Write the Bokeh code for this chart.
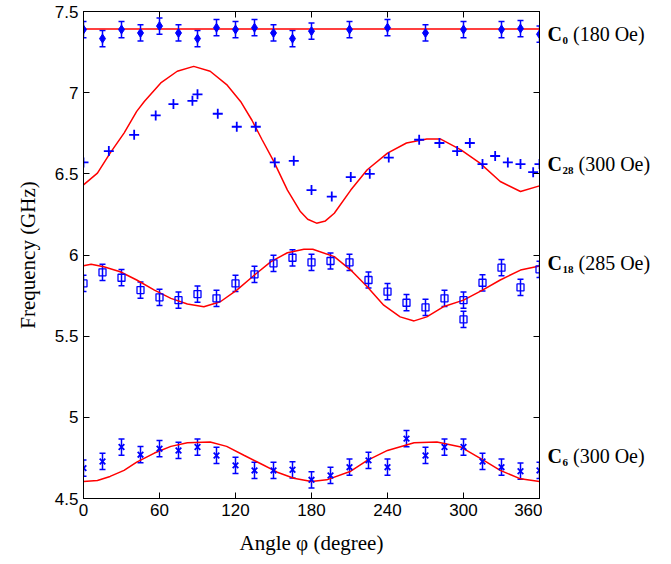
from bokeh.plotting import figure
from bokeh.layouts import row
from bokeh.models import (Range1d, FixedTicker, LinearAxis, Whisker, TeeHead,
                          ColumnDataSource, Label, CustomJSTickFormatter)
from bokeh.embed import file_html
from bokeh.resources import INLINE

# ---------------- data ----------------
x_ticks = [0, 60, 120, 180, 240, 300, 360]
y_ticks = [4.5, 5, 5.5, 6, 6.5, 7, 7.5]

# C0 (180 Oe)
c0_ang = [0, 15, 30, 45, 60, 75, 90, 105, 120, 135, 150, 165, 180, 210, 240, 270, 300, 330, 345, 360]
c0_val = [7.389, 7.333, 7.389, 7.368, 7.41, 7.368, 7.333, 7.40, 7.389, 7.40, 7.368, 7.333, 7.379,
          7.389, 7.40, 7.368, 7.389, 7.389, 7.395, 7.36]
c0_err = [0.05, 0.05, 0.05, 0.05, 0.05, 0.05, 0.05, 0.05, 0.05, 0.05, 0.05, 0.05, 0.05,
          0.05, 0.05, 0.05, 0.05, 0.05, 0.05, 0.05]
c0_fit_ang = [0, 360]
c0_fit_val = [7.392, 7.392]

# C28 (300 Oe)
c28_ang = [0, 20, 40, 57, 71, 86, 90, 106, 121, 136, 151, 166, 180, 196, 211, 226, 241,
           265, 281, 295, 305, 315, 325, 335, 345, 355, 360]
c28_val = [6.57, 6.64, 6.74, 6.86, 6.93, 6.95, 6.99, 6.87, 6.79, 6.79, 6.57, 6.58, 6.40, 6.36,
           6.48, 6.50, 6.60, 6.71, 6.69, 6.64, 6.69, 6.56, 6.61, 6.57, 6.56, 6.51, 6.56]
c28_fit_ang = [0, 11, 21, 32, 42, 48, 61, 74, 87, 100, 113, 124, 133, 141, 150, 161, 171, 177,
               184, 191, 198, 211, 224, 240, 255, 271, 282, 298, 313, 329, 345, 360]
c28_fit_val = [6.432, 6.504, 6.628, 6.751, 6.885, 6.946, 7.06, 7.132, 7.162, 7.132, 7.05, 6.946,
               6.83, 6.71, 6.58, 6.40, 6.27, 6.22, 6.196, 6.21, 6.257, 6.40, 6.525, 6.628, 6.69,
               6.714, 6.714, 6.648, 6.566, 6.453, 6.391, 6.426]

# C18 (285 Oe)
c18_ang = [0, 15, 30, 45, 60, 75, 90, 105, 120, 135, 150, 165, 180, 195, 210, 225, 240, 255,
           270, 285, 300, 300, 315, 330, 345, 360]
c18_val = [5.825, 5.893, 5.86, 5.784, 5.739, 5.722, 5.759, 5.733, 5.825, 5.881, 5.949, 5.983,
           5.955, 5.963, 5.955, 5.846, 5.774, 5.706, 5.677, 5.733, 5.722, 5.603, 5.829, 5.922,
           5.80, 5.912]
c18_err = [0.05, 0.05, 0.05, 0.05, 0.05, 0.05, 0.05, 0.05, 0.05, 0.05, 0.05, 0.05, 0.05,
           0.05, 0.05, 0.05, 0.05, 0.05, 0.05, 0.05, 0.05, 0.05, 0.05, 0.05, 0.05, 0.05]
c18_fit_ang = [0, 6, 16, 29, 42, 56, 69, 82, 95, 108, 121, 135, 148, 161, 174, 181, 198, 211,
               224, 237, 250, 261, 271, 284, 300, 315, 329, 345, 360]
c18_fit_val = [5.934, 5.943, 5.928, 5.897, 5.846, 5.784, 5.733, 5.698, 5.681, 5.712, 5.784,
               5.877, 5.959, 6.014, 6.035, 6.035, 5.99, 5.907, 5.804, 5.691, 5.619, 5.594,
               5.619, 5.681, 5.722, 5.784, 5.846, 5.907, 5.932]

# C6 (300 Oe)
c6_ang = [0, 15, 30, 45, 60, 75, 90, 105, 120, 135, 150, 165, 180, 195, 210, 225, 240, 255,
          270, 285, 300, 315, 330, 345, 360]
c6_val = [4.687, 4.728, 4.817, 4.77, 4.807, 4.796, 4.817, 4.765, 4.704, 4.673, 4.673, 4.677,
          4.615, 4.642, 4.693, 4.735, 4.693, 4.869, 4.765, 4.817, 4.817, 4.728, 4.693, 4.668, 4.673]
c6_err = [0.05, 0.05, 0.05, 0.05, 0.05, 0.05, 0.05, 0.05, 0.05, 0.05, 0.05, 0.05, 0.05,
          0.05, 0.05, 0.05, 0.05, 0.05, 0.05, 0.05, 0.05, 0.05, 0.05, 0.05, 0.05]
c6_fit_ang = [0, 11, 21, 32, 42, 56, 69, 82, 100, 113, 127, 140, 153, 166, 180, 192, 211, 224,
              240, 261, 279, 298, 316, 329, 345, 360]
c6_fit_val = [4.605, 4.611, 4.636, 4.673, 4.724, 4.78, 4.821, 4.844, 4.848, 4.821, 4.765,
              4.714, 4.662, 4.625, 4.605, 4.615, 4.668, 4.735, 4.796, 4.844, 4.848, 4.817,
              4.735, 4.673, 4.621, 4.605]

# right-side labels
lab_sub = ["0", "28", "18", "6"]
lab_rest = ["(180 Oe)", "(300 Oe)", "(285 Oe)", "(300 Oe)"]
lab_y = [7.36, 6.56, 5.95, 4.76]

# ---------------- figure ----------------
BLUE = "#0000ff"
RED = "#ff0000"
SERIF = "Liberation Serif"
SANS = "Liberation Sans"
H = 562
TOP = 11
BOTTOM = 64

p = figure(width=542, height=H, output_backend="svg", toolbar_location=None,
           x_range=Range1d(0, 360), y_range=Range1d(4.5, 7.5),
           min_border_left=83, min_border_right=3, min_border_top=TOP, min_border_bottom=BOTTOM)
p.grid.visible = False
p.outline_line_color = "black"
p.outline_line_width = 1
p.background_fill_color = "white"
p.border_fill_color = "white"

fmt = CustomJSTickFormatter(code="return String(tick);")
blank = CustomJSTickFormatter(code="return '';")

def style_axis(ax, show_labels):
    ax.major_tick_in = 6
    ax.major_tick_out = 0
    ax.minor_tick_line_color = None
    ax.axis_line_color = "black"
    ax.major_tick_line_color = "black"
    if show_labels:
        ax.major_label_text_font = SANS
        ax.major_label_text_font_size = "17px"
        ax.major_label_text_color = "black"
        ax.major_label_standoff = 5
        ax.axis_label_text_font = SERIF
        ax.axis_label_text_font_size = "21px"
        ax.axis_label_text_font_style = "normal"
        ax.axis_label_text_color = "black"
    else:
        ax.formatter = blank
        ax.major_label_standoff = 0

xa = p.xaxis[0]
xa.ticker = FixedTicker(ticks=x_ticks)
xa.formatter = fmt
xa.axis_label = "Angle φ (degree)"
style_axis(xa, True)
xa.axis_label_standoff = 12

ya = p.yaxis[0]
ya.ticker = FixedTicker(ticks=y_ticks)
ya.formatter = fmt
ya.axis_label = "Frequency (GHz)"
style_axis(ya, True)
ya.axis_label_standoff = 12

top = LinearAxis(ticker=FixedTicker(ticks=x_ticks))
style_axis(top, False)
p.add_layout(top, "above")
right = LinearAxis(ticker=FixedTicker(ticks=y_ticks))
style_axis(right, False)
p.add_layout(right, "right")

# fit curves
for a, v in [(c0_fit_ang, c0_fit_val), (c28_fit_ang, c28_fit_val),
             (c18_fit_ang, c18_fit_val), (c6_fit_ang, c6_fit_val)]:
    p.line(a, v, line_color=RED, line_width=1.5)

# error bars
def add_err(ang, val, err):
    src = ColumnDataSource(dict(x=ang, lo=[v - e for v, e in zip(val, err)],
                                hi=[v + e for v, e in zip(val, err)]))
    w = Whisker(source=src, base="x", lower="lo", upper="hi", line_color=BLUE, line_width=1.5,
                upper_head=TeeHead(size=6, line_color=BLUE, line_width=1.5),
                lower_head=TeeHead(size=6, line_color=BLUE, line_width=1.5))
    p.add_layout(w)

add_err(c0_ang, c0_val, c0_err)
add_err(c18_ang, c18_val, c18_err)
add_err(c6_ang, c6_val, c6_err)

p.scatter(c0_ang, c0_val, marker="diamond", size=9, fill_color=BLUE, line_color=BLUE)
p.scatter(c28_ang, c28_val, marker="cross", size=10, line_color=BLUE, line_width=1.8)
p.scatter(c18_ang, c18_val, marker="square", size=7, fill_color=None, line_color=BLUE, line_width=1.3)
p.scatter(c6_ang, c6_val, marker="x", size=8, line_color=BLUE, line_width=1.8)

# side panel for the curve names (shares the y range)
q = figure(width=125, height=H, output_backend="svg", toolbar_location=None,
           x_range=Range1d(0, 125), y_range=p.y_range,
           min_border_left=0, min_border_right=0, min_border_top=TOP, min_border_bottom=BOTTOM)
q.axis.visible = False
q.grid.visible = False
q.outline_line_color = None
q.background_fill_color = "white"
q.border_fill_color = "white"

for sub, rest, yv in zip(lab_sub, lab_rest, lab_y):
    q.add_layout(Label(x=5, y=yv, text="C", text_font=SERIF,
                       text_font_size="20px", text_font_style="bold",
                       text_baseline="middle", text_color="black"))
    q.add_layout(Label(x=20, y=yv, y_offset=-6, text=sub, text_font=SERIF,
                       text_font_size="11px", text_font_style="bold",
                       text_baseline="middle", text_color="black"))
    q.add_layout(Label(x=20 + 5.5 * len(sub) + 5, y=yv, text=rest,
                       text_font=SERIF, text_font_size="20px",
                       text_baseline="middle", text_color="black"))

layout = row(p, q, spacing=0)
open("out.html", "w").write(file_html(layout, INLINE))
